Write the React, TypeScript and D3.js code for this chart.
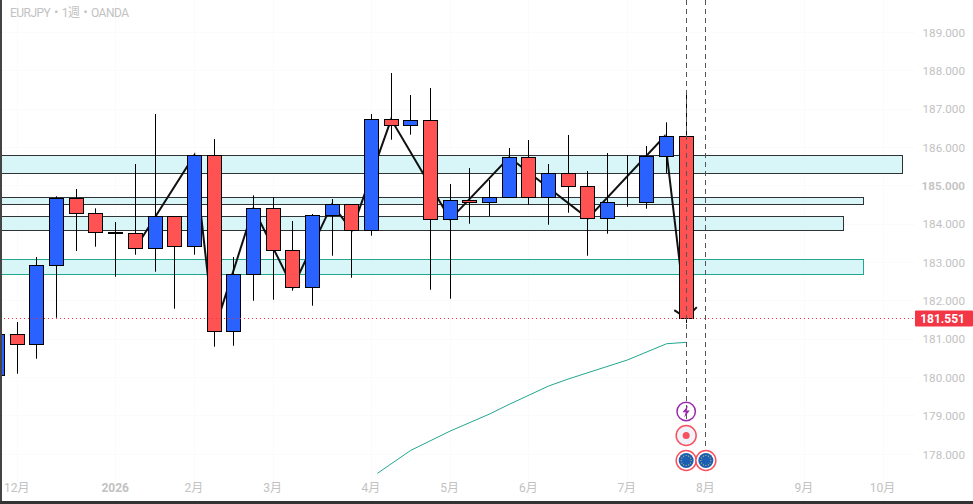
import React, { useEffect, useRef } from 'react';
import * as d3 from 'd3';

const WIDTH = 973;
const HEIGHT = 504;

// weekly candles, index -1 is the one cut off by the left edge
const firstWeek = -1;
const opens = [180.048, 181.127, 180.866, 182.926, 184.673, 184.281, 183.786, 183.76, 183.369, 184.193, 183.421, 185.794, 181.205, 182.691, 184.412, 183.325, 182.352, 184.229, 184.516, 183.838, 186.732, 186.576, 186.706, 184.125, 184.62, 184.568, 184.699, 185.741, 184.699, 185.324, 184.985, 184.151, 184.568, 184.568, 185.767, 186.289];
const highs = [181.2, 181.448, 183.142, 184.725, 184.915, 184.412, 184.055, 185.567, 186.87, 184.193, 185.794, 186.218, 183.142, 184.751, 184.699, 184.081, 184.263, 184.654, 184.516, 186.87, 187.939, 187.365, 187.548, 185.045, 185.462, 185.15, 185.984, 186.192, 185.567, 186.323, 185.384, 185.853, 185.801, 186.036, 186.654, 187.496];
const lows = [179.9, 180.1, 180.491, 181.56, 183.299, 183.411, 182.629, 183.202, 182.759, 181.795, 183.202, 180.804, 180.83, 182.003, 182.029, 182.264, 181.873, 183.176, 182.603, 183.698, 186.2, 186.331, 182.29, 182.055, 184.01, 184.211, 184.699, 184.506, 183.984, 184.297, 183.176, 183.75, 184.454, 184.401, 185.324, 181.422];
const closes = [181.127, 180.866, 182.926, 184.673, 184.281, 183.786, 183.768, 183.369, 184.193, 183.421, 185.794, 181.205, 182.691, 184.412, 183.325, 182.352, 184.237, 184.516, 183.838, 186.732, 186.576, 186.706, 184.125, 184.62, 184.568, 184.699, 185.741, 184.699, 185.324, 184.985, 184.151, 184.568, 184.568, 185.767, 186.289, 181.551];

// zigzag drawn over the candles
const zigzagWeeks = [6, 9, 10, 12, 14, 16, 17, 19, 22, 25, 29, 32.9, 34];
const zigzagPrices = [183.369, 185.794, 181.205, 184.412, 182.352, 184.516, 183.838, 186.732, 184.125, 185.741, 184.151, 186.289, 181.551];

// teal moving average
const maWeeks = [18.3, 20, 22, 24, 25, 27, 28, 31, 33, 34];
const maPrices = [177.503, 178.103, 178.606, 179.049, 179.302, 179.779, 179.962, 180.457, 180.882, 180.919];

// zones: top price, bottom price, week the box ends
const zoneTops = [185.794, 184.699, 184.203, 183.082];
const zoneBottoms = [185.324, 184.516, 183.838, 182.691];
const zoneEnds = [45, 43, 42, 43];
const zoneStrokes = ['#2f3336', '#2f3336', '#2f3336', '#22a68f'];

const priceTicks = [189, 188, 187, 186, 185, 184, 183, 182, 181, 180, 179, 178];
const timeTickWeeks = [0, 5, 9, 13, 18, 22, 26, 31, 35, 40, 44];
const timeTickLabels = ['12月', '2026', '2月', '3月', '4月', '5月', '6月', '7月', '8月', '9月', '10月'];
const lastPrice = 181.551;
const eventWeeks = [34, 35];

const BLUE = '#2962ff';
const RED = '#ff5252';
const AXIS_TEXT = '#c2c2c2';
const FONT = 'Roboto, "Noto Sans CJK JP", sans-serif';

const App = () => {
  const ref = useRef<SVGSVGElement | null>(null);

  useEffect(() => {
    const svg = d3.select(ref.current);
    svg.selectAll('*').remove();

    const x = d3.scaleLinear().domain([0, 34]).range([17.28, 686.28]);
    const y = d3.scaleLinear().domain([189, 178]).range([32.3, 454.3]);
    const px = (v: number) => Math.floor(v) + 0.5;

    // very faint grid
    const grid = svg.append('g').attr('stroke', '#fbfbfb');
    priceTicks.forEach(p => {
      grid.append('line').attr('x1', 0).attr('x2', 915).attr('y1', px(y(p))).attr('y2', px(y(p)));
    });
    timeTickWeeks.forEach(w => {
      grid.append('line').attr('x1', px(x(w))).attr('x2', px(x(w))).attr('y1', 0).attr('y2', 500);
    });

    // zones
    zoneTops.forEach((top, i) => {
      svg
        .append('rect')
        .attr('x', -2)
        .attr('y', px(y(top)))
        .attr('width', px(x(zoneEnds[i])) + 2)
        .attr('height', px(y(zoneBottoms[i])) - px(y(top)))
        .attr('fill', '#d8f5f7')
        .attr('stroke', zoneStrokes[i])
        .attr('stroke-width', 1);
    });

    // moving average
    const line = d3
      .line<number>()
      .x((_, i) => x(maWeeks[i]))
      .y(d => y(d));
    svg
      .append('path')
      .attr('d', line(maPrices))
      .attr('fill', 'none')
      .attr('stroke', '#22a68f')
      .attr('stroke-width', 1);

    // zigzag + arrow head at the end
    const zigzag = d3
      .line<number>()
      .x((_, i) => x(zigzagWeeks[i]))
      .y(d => y(d));
    svg
      .append('path')
      .attr('d', zigzag(zigzagPrices))
      .attr('fill', 'none')
      .attr('stroke', '#111')
      .attr('stroke-width', 2);
    const tipX = x(zigzagWeeks[zigzagWeeks.length - 1]);
    const tipY = y(zigzagPrices[zigzagPrices.length - 1]);
    svg
      .append('path')
      .attr('d', `M${tipX - 12},${tipY - 8}L${tipX},${tipY}L${tipX + 10.5},${tipY - 11}`)
      .attr('fill', 'none')
      .attr('stroke', '#111')
      .attr('stroke-width', 2);

    // candles
    const candles = svg.append('g');
    opens.forEach((open, i) => {
      const week = firstWeek + i;
      const cx = px(x(week));
      const close = closes[i];
      const top = px(y(Math.max(open, close)));
      const bottom = px(y(Math.min(open, close)));
      candles
        .append('line')
        .attr('x1', cx)
        .attr('x2', cx)
        .attr('y1', y(highs[i]))
        .attr('y2', y(lows[i]))
        .attr('stroke', '#000')
        .attr('stroke-width', 1);
      candles
        .append('rect')
        .attr('x', cx - 7)
        .attr('y', top)
        .attr('width', 14)
        .attr('height', bottom - top)
        .attr('fill', close >= open ? BLUE : RED)
        .attr('stroke', '#000')
        .attr('stroke-width', 1);
    });

    // last price line
    svg
      .append('line')
      .attr('x1', 0)
      .attr('x2', 915)
      .attr('y1', px(y(lastPrice)))
      .attr('y2', px(y(lastPrice)))
      .attr('stroke', '#ff2a3a')
      .attr('stroke-width', 1)
      .attr('stroke-dasharray', '1,3');

    // event lines
    eventWeeks.forEach((w, i) => {
      svg
        .append('line')
        .attr('x1', px(x(w)))
        .attr('x2', px(x(w)))
        .attr('y1', 0)
        .attr('y2', i === 0 ? 422 : 450)
        .attr('stroke', '#555')
        .attr('stroke-width', 1)
        .attr('stroke-dasharray', '5,4');
    });

    // event icons
    const ex = x(34) - 0.1;
    const bolt = svg.append('g').attr('transform', `translate(${ex},411.5)`);
    bolt.append('circle').attr('r', 9.2).attr('fill', 'none').attr('stroke', '#9c27b0').attr('stroke-width', 1.5);
    bolt.append('path').attr('d', 'M1.8,-6L-3.6,0.8L-0.4,0.8L-2,6L3.6,-1L0.4,-1Z').attr('fill', '#9c27b0');

    const dot = svg.append('g').attr('transform', `translate(${ex},435.5)`);
    dot.append('circle').attr('r', 10).attr('fill', '#f0f3fa').attr('stroke', '#f7525f').attr('stroke-width', 1.5);
    dot.append('circle').attr('r', 3.5).attr('fill', '#f7525f');

    eventWeeks.forEach(w => {
      const flag = svg.append('g').attr('transform', `translate(${x(w) - 0.1},460.5)`);
      flag.append('circle').attr('r', 10).attr('fill', '#fff').attr('stroke', '#f7525f').attr('stroke-width', 1.5);
      flag.append('circle').attr('r', 7.5).attr('fill', '#1a5fb4');
      d3.range(12).forEach(k => {
        const a = (k / 12) * 2 * Math.PI;
        flag
          .append('circle')
          .attr('cx', Math.cos(a) * 5)
          .attr('cy', Math.sin(a) * 5)
          .attr('r', 0.6)
          .attr('fill', '#e6c84a');
      });
    });

    // price axis
    svg
      .append('g')
      .selectAll('text')
      .data(priceTicks)
      .enter()
      .append('text')
      .attr('x', 965)
      .attr('y', d => y(d))
      .attr('dy', '0.36em')
      .attr('text-anchor', 'end')
      .style('font-family', FONT)
      .style('font-size', '11.7px')
      .style('font-weight', d => (d === 185 ? 600 : 400))
      .style('fill', AXIS_TEXT)
      .text(d => d.toFixed(3));

    svg
      .append('rect')
      .attr('x', 915)
      .attr('y', y(lastPrice) - 7.5)
      .attr('width', 58)
      .attr('height', 16)
      .attr('rx', 1)
      .attr('fill', '#f23645');
    svg
      .append('text')
      .attr('x', 965)
      .attr('y', y(lastPrice) + 0.5)
      .attr('dy', '0.36em')
      .attr('text-anchor', 'end')
      .style('font-family', FONT)
      .style('font-size', '12px')
      .style('font-weight', 700)
      .style('fill', '#fff')
      .text(lastPrice.toFixed(3));

    // time axis
    timeTickWeeks.forEach((w, i) => {
      svg
        .append('text')
        .attr('x', x(w) - 0.5)
        .attr('y', 488)
        .attr('dy', '0.36em')
        .attr('text-anchor', 'middle')
        .style('font-family', FONT)
        .style('font-size', '12px')
        .style('font-weight', timeTickLabels[i] === '2026' ? 700 : 400)
        .style('fill', AXIS_TEXT)
        .text(timeTickLabels[i]);
    });

    // title
    svg
      .append('text')
      .attr('x', 10)
      .attr('y', 13)
      .attr('dy', '0.36em')
      .attr('textLength', 119)
      .attr('lengthAdjust', 'spacing')
      .style('font-family', FONT)
      .style('font-size', '12px')
      .style('fill', AXIS_TEXT)
      .text('EURJPY・1週・OANDA');

    // window edges
    svg.append('rect').attr('x', 0).attr('y', 0).attr('width', 2).attr('height', HEIGHT).attr('fill', '#444');
    svg.append('rect').attr('x', 0).attr('y', 501).attr('width', WIDTH).attr('height', 3).attr('fill', '#333');
  }, []);

  return (
    <svg
      ref={ref}
      width={WIDTH}
      height={HEIGHT}
      style={{ position: 'fixed', left: 0, top: 0, display: 'block', background: '#fff' }}
    />
  );
};

export default App;
